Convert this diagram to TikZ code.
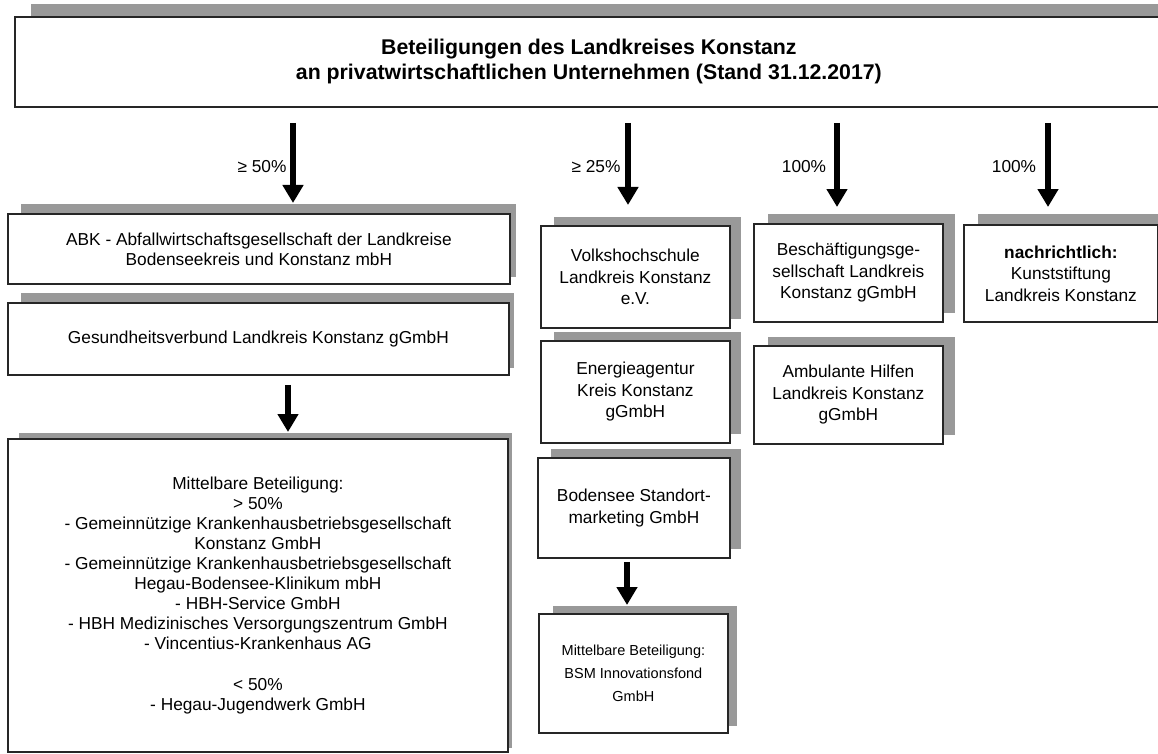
\documentclass[tikz,border=0pt]{standalone}
\usepackage{fontspec}
\setmainfont{Liberation Sans}
\usetikzlibrary{arrows.meta,calc,backgrounds}
\newcommand\mkshade[5]{%
  \fill[shadefill] ($(#1.north west)+(#2pt,#3pt)$) rectangle ($(#1.south east)+(#4pt,#5pt)$);}
\begin{document}
\begin{tikzpicture}[x=1pt,y=-1pt,
  box/.style={draw=black!85, line width=1.8pt, fill=white, anchor=north west,
    inner sep=2pt, align=center, font=\fontsize{17.3}{21.5}\selectfont},
  arr/.style={line width=6pt, -{Triangle[width=20pt,length=18pt]}},
  lbl/.style={font=\fontsize{17.3}{20}\selectfont, inner sep=0pt},
  shadefill/.style={fill=black!40}]
\useasboundingbox (0,0) rectangle (1158,754);

% title
\node[box, minimum width=1148pt, minimum height=90pt,
  font=\bfseries\fontsize{21.3}{25}\selectfont] (title) at (14,16)
  {Beteiligungen des Landkreises Konstanz\\an privatwirtschaftlichen  Unternehmen (Stand 31.12.2017)};

% left column
\node[box, minimum width=502pt, minimum height=70pt, font=\fontsize{17.3}{20}\selectfont] (abk) at (7,213)
  {ABK - Abfallwirtschaftsgesellschaft der Landkreise\\Bodenseekreis und Konstanz mbH};
\node[box, minimum width=501pt, minimum height=72pt] (gv) at (7,302)
  {Gesundheitsverbund Landkreis Konstanz gGmbH};
\node[box, minimum width=500pt, minimum height=313pt, font=\fontsize{17.3}{20.1}\selectfont] (mb) at (7,438)
  {\mbox{}\\[-8pt]
   Mittelbare Beteiligung:\\
   > 50\%\\
   - Gemeinnützige Krankenhausbetriebsgesellschaft\\
   Konstanz GmbH\\
   - Gemeinnützige Krankenhausbetriebsgesellschaft\\
   Hegau-Bodensee-Klinikum mbH\\
   - HBH-Service GmbH\\
   - HBH Medizinisches Versorgungszentrum GmbH\\
   - Vincentius-Krankenhaus AG\\[20.1pt]
   < 50\%\\
   - Hegau-Jugendwerk GmbH};

% second column
\node[box, minimum width=189pt, minimum height=102pt] (vhs) at (540,225)
  {Volkshochschule\\Landkreis Konstanz\\e.V.};
\node[box, minimum width=189pt, minimum height=102pt] (ea) at (540,340)
  {Energieagentur\\Kreis Konstanz\\gGmbH};
\node[box, minimum width=192pt, minimum height=100pt] (bsm) at (537,457)
  {Bodensee Standort-\\marketing GmbH};
\node[box, minimum width=189pt, minimum height=119pt, font=\fontsize{14.5}{23}\selectfont] (inno) at (538,613)
  {Mittelbare Beteiligung:\\BSM Innovationsfond\\GmbH};

% third column
\node[box, minimum width=189pt, minimum height=98pt] (besch) at (753,223)
  {Beschäftigungsge-\\sellschaft Landkreis\\Konstanz gGmbH};
\node[box, minimum width=189pt, minimum height=98pt] (amb) at (753,345)
  {Ambulante Hilfen\\Landkreis Konstanz\\gGmbH};

% fourth column
\node[box, minimum width=194pt, minimum height=97pt] (kunst) at (963,224)
  {\textbf{nachrichtlich:}\\Kunststiftung\\Landkreis Konstanz};

% shadows
\begin{scope}[on background layer]
  \mkshade{title}{17}{12}{5}{8}
  \mkshade{abk}{14}{9}{5}{8}
  \mkshade{gv}{14}{9}{4}{8}
  \mkshade{mb}{12}{5}{3}{5}
  \mkshade{vhs}{14}{8}{10}{10}
  \mkshade{ea}{14}{8}{10}{10}
  \mkshade{bsm}{14}{8}{10}{10}
  \mkshade{inno}{15}{7}{8}{8}
  \mkshade{besch}{15}{9}{11}{10}
  \mkshade{amb}{15}{8}{11}{10}
  \mkshade{kunst}{15}{10}{11}{10}
\end{scope}

% arrow end points
\coordinate (e1) at (293,203);
\coordinate (e2) at (628,205);
\coordinate (e3) at (837,207);
\coordinate (e4) at (1048,207);
\coordinate (x5) at (288,0);
\coordinate (x6) at (627,0);

\draw[arr, shorten <=15pt] (title.south -| e1) -- (e1);
\draw[arr, shorten <=15pt] (title.south -| e2) -- (e2);
\draw[arr, shorten <=15pt] (title.south -| e3) -- (e3);
\draw[arr, shorten <=15pt] (title.south -| e4) -- (e4);
\draw[arr, shorten <=9pt, shorten >=6pt] (gv.south -| x5) -- (mb.north -| x5);
\draw[arr, shorten <=3pt, shorten >=8pt] (bsm.south -| x6) -- (inno.north -| x6);

% labels
\node[lbl] (l1) at (262,167) {≥ 50\%};
\node[lbl] (l2) at (596,167) {≥ 25\%};
\node[lbl] (l3) at (804,167) {100\%};
\node[lbl] (l4) at (1014,167) {100\%};
\end{tikzpicture}
\end{document}
